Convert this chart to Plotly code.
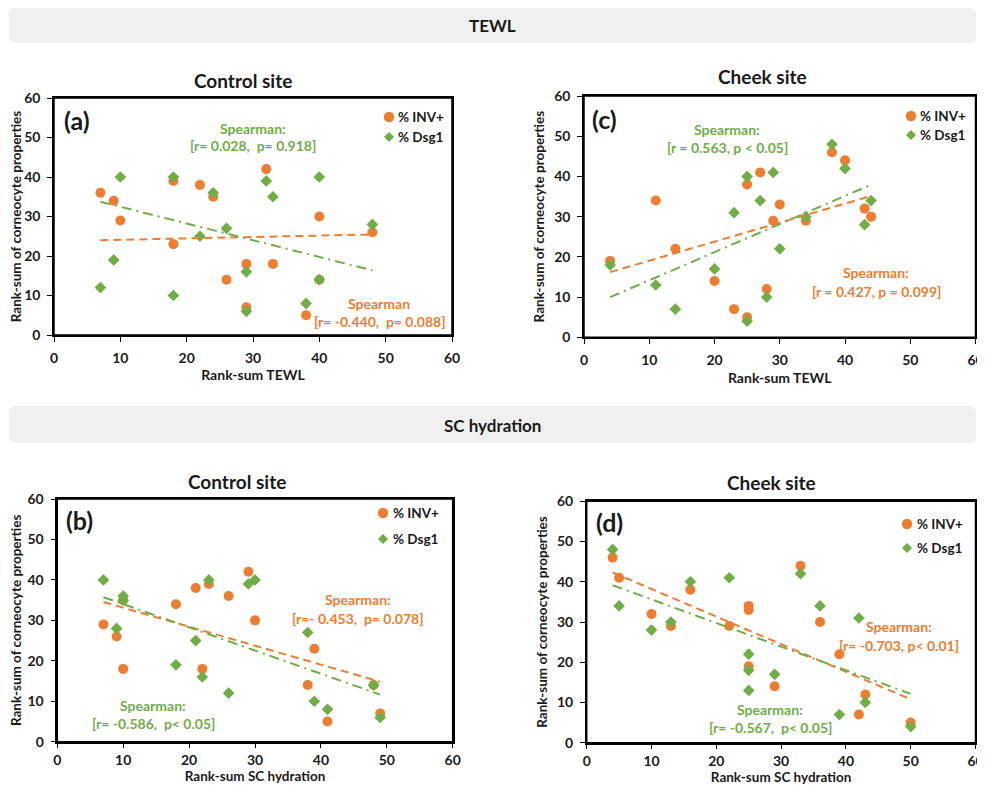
import numpy as np
import plotly.graph_objects as go

# ---------------- data ----------------
# Panel (a): Control site, TEWL
a_x = [7, 9, 10, 18, 18, 22, 24, 26, 29, 29, 32, 33, 38, 40, 40, 48]
a_inv = [36, 34, 29, 39, 23, 38, 35, 14, 18, 7, 42, 18, 5, 30, 14, 26]
a_dsg = [12, 19, 40, 40, 10, 25, 36, 27, 16, 6, 39, 35, 8, 40, 14, 28]
# Panel (c): Cheek site, TEWL
c_x = [4, 11, 14, 20, 23, 25, 25, 27, 28, 29, 30, 34, 38, 40, 43, 44]
c_inv = [19, 34, 22, 14, 7, 38, 5, 41, 12, 29, 33, 29, 46, 44, 32, 30]
c_dsg = [18, 13, 7, 17, 31, 40, 4, 34, 10, 41, 22, 30, 48, 42, 28, 34]
# Panel (b): Control site, SC hydration
b_x = [7, 9, 10, 10, 18, 21, 22, 23, 26, 29, 30, 38, 39, 41, 48, 49]
b_inv = [29, 26, 35, 18, 34, 38, 18, 39, 36, 42, 30, 14, 23, 5, 14, 7]
b_dsg = [40, 28, 36, 35, 19, 25, 16, 40, 12, 39, 40, 27, 10, 8, 14, 6]
# Panel (d): Cheek site, SC hydration
d_x = [4, 5, 10, 13, 16, 22, 25, 25, 25, 29, 33, 36, 39, 42, 43, 50]
d_inv = [46, 41, 32, 29, 38, 29, 34, 33, 19, 14, 44, 30, 22, 7, 12, 5]
d_dsg = [48, 34, 28, 30, 40, 41, 22, 18, 13, 17, 42, 34, 7, 31, 10, 4]

series_names = ["% INV+", "% Dsg1"]
tick_vals = [0, 10, 20, 30, 40, 50, 60]

ORANGE = "#ED7D31"
GREEN = "#70AD47"
FONT = "Lato"
TXT = "#1a1a1a"

# the page body has an 8px margin; positions below are in window pixels
OFF = 8
W, H = 985 - 2 * OFF, 793 - 2 * OFF
def fx(px):
    return (px - OFF) / W
def fy(py):
    return 1 - (py - OFF) / H
def clamp(v):
    return min(1.0, max(0.0, v))

fig = go.Figure()

panels = [
    dict(x=a_x, inv=a_inv, dsg=a_dsg, px=[54, 452], py=[98, 335],
         xtitle="Rank-sum TEWL", swap=True, standoff=6, tls=4, tsize=14),
    dict(x=c_x, inv=c_inv, dsg=c_dsg, px=[584, 975.5], py=[96, 337.3],
         xtitle="Rank-sum TEWL", swap=False, standoff=6, tls=4, tsize=14),
    dict(x=b_x, inv=b_inv, dsg=b_dsg, px=[57.3, 452.7], py=[499, 741.7],
         xtitle="Rank-sum SC hydration", swap=False, standoff=3, tls=0, tsize=13.5),
    dict(x=d_x, inv=d_inv, dsg=d_dsg, px=[586.7, 975.5], py=[501.3, 742.7],
         xtitle="Rank-sum SC hydration", swap=False, standoff=3, tls=0, tsize=13.5),
]

shapes = []
for i, p in enumerate(panels):
    n = "" if i == 0 else str(i + 1)
    xa, ya = "x" + n, "y" + n
    x = np.array(p["x"], dtype=float)
    inv = np.array(p["inv"], dtype=float)
    dsg = np.array(p["dsg"], dtype=float)
    xs = np.array([x.min(), x.max()])
    # linear trend lines (in panel (a) the original figure's line colours are crossed)
    fit_orange = dsg if p["swap"] else inv
    fit_green = inv if p["swap"] else dsg
    k1, b1 = np.polyfit(x, fit_orange, 1)
    k2, b2 = np.polyfit(x, fit_green, 1)
    fig.add_trace(go.Scatter(x=x, y=inv, mode="markers", name=series_names[0], showlegend=False,
                             marker=dict(symbol="circle", size=10, color=ORANGE),
                             xaxis=xa, yaxis=ya))
    fig.add_trace(go.Scatter(x=x, y=dsg, mode="markers", name=series_names[1], showlegend=False,
                             marker=dict(symbol="diamond", size=9, color=GREEN),
                             xaxis=xa, yaxis=ya))
    fig.add_trace(go.Scatter(x=xs, y=k1 * xs + b1, mode="lines", showlegend=False,
                             line=dict(color=ORANGE, width=2, dash="8px,5px"),
                             xaxis=xa, yaxis=ya, hoverinfo="skip"))
    fig.add_trace(go.Scatter(x=xs, y=k2 * xs + b2, mode="lines", showlegend=False,
                             line=dict(color=GREEN, width=2, dash="10px,5px,2px,5px"),
                             xaxis=xa, yaxis=ya, hoverinfo="skip"))

    axis_common = dict(range=[0, 60], tickvals=tick_vals, showgrid=False, zeroline=False,
                       showline=True, linecolor="black", linewidth=1.5, mirror=True,
                       ticks="outside", ticklen=5, tickcolor="black", tickwidth=1.2,
                       ticklabelstandoff=4, automargin=False, ticklabeloverflow="allow",
                       tickfont=dict(family=FONT, size=14, color=TXT, weight="bold"))
    fig.update_layout(**{
        "xaxis" + n: dict(axis_common, domain=[clamp(fx(p["px"][0])), clamp(fx(p["px"][1]))],
                          anchor=ya, ticklabelstandoff=p["tls"],
                          title=dict(text=p["xtitle"], standoff=p["standoff"],
                                     font=dict(family=FONT, size=p["tsize"], color=TXT,
                                               weight="bold"))),
        "yaxis" + n: dict(axis_common, domain=[clamp(fy(p["py"][1])), clamp(fy(p["py"][0]))],
                          anchor=xa,
                          title=dict(text="Rank-sum of corneocyte properties", standoff=6,
                                     font=dict(family=FONT, size=13.5, color=TXT, weight="bold"))),
    })
    # plot frame drawn explicitly as well, so every side is visible
    shapes.append(dict(type="rect", xref=xa + " domain", yref=ya + " domain",
                       x0=0, x1=1, y0=0, y1=1, line=dict(color="black", width=1.5),
                       fillcolor="rgba(0,0,0,0)", layer="above"))

annos = []
def txt(x, y, s, color=TXT, size=14, anchor="center"):
    annos.append(dict(x=fx(x), y=fy(y), xref="paper", yref="paper", text=s, showarrow=False,
                      xanchor=anchor, yanchor="middle",
                      font=dict(family=FONT, size=size, color=color, weight="bold")))

def rounded_rect(x0, y0, x1, y1, r, color):
    pts = (f"M {fx(x0 + r)},{fy(y0)} L {fx(x1 - r)},{fy(y0)} Q {fx(x1)},{fy(y0)} {fx(x1)},{fy(y0 + r)} "
           f"L {fx(x1)},{fy(y1 - r)} Q {fx(x1)},{fy(y1)} {fx(x1 - r)},{fy(y1)} "
           f"L {fx(x0 + r)},{fy(y1)} Q {fx(x0)},{fy(y1)} {fx(x0)},{fy(y1 - r)} "
           f"L {fx(x0)},{fy(y0 + r)} Q {fx(x0)},{fy(y0)} {fx(x0 + r)},{fy(y0)} Z")
    shapes.append(dict(type="path", xref="paper", yref="paper", path=pts,
                       fillcolor=color, line=dict(width=0), layer="below"))

# banners
rounded_rect(9, 8, 976, 43, 6, "#F0F0F0")
rounded_rect(9, 406, 976, 443, 6, "#F0F0F0")
txt(492, 25, "TEWL", size=17)
txt(492, 425, "SC hydration", size=17)
# titles
txt(243, 80, "Control site", size=19)
txt(762, 76, "Cheek site", size=19)
txt(237, 481, "Control site", size=19)
txt(771, 482, "Cheek site", size=19)
# panel labels
txt(77, 120, "(a)", size=25)
txt(604, 119, "(c)", size=25)
txt(79, 520, "(b)", size=25)
txt(609, 522, "(d)", size=25)

# legends (marker + label) per panel
def legend(mx, y1, y2, tx):
    r = 5.2
    shapes.append(dict(type="circle", xref="paper", yref="paper",
                       x0=fx(mx - r), x1=fx(mx + r), y0=fy(y1 + r), y1=fy(y1 - r),
                       fillcolor=ORANGE, line=dict(width=0)))
    d = 5.0
    shapes.append(dict(type="path", xref="paper", yref="paper",
                       path=f"M {fx(mx)},{fy(y2 - d)} L {fx(mx + d)},{fy(y2)} L {fx(mx)},{fy(y2 + d)} "
                            f"L {fx(mx - d)},{fy(y2)} Z",
                       fillcolor=GREEN, line=dict(width=0)))
    txt(tx, y1, series_names[0], size=13.5, anchor="left")
    txt(tx, y2, series_names[1], size=13.5, anchor="left")

legend(389, 117, 137, 396)
legend(911, 116, 135, 918)
legend(383, 513, 539, 391)
legend(907, 524, 548, 915)

# Spearman annotations
txt(253, 128, "Spearman:", GREEN)
txt(253, 146, "[r= 0.028,  p= 0.918]", GREEN)
txt(379, 303, "Spearman", ORANGE)
txt(380, 322, "[r= -0.440,  p= 0.088]", ORANGE)
txt(727, 130, "Spearman:", GREEN)
txt(727, 148, "[r = 0.563, p < 0.05]", GREEN)
txt(876, 272, "Spearman:", ORANGE)
txt(876, 291, "[r = 0.427, p = 0.099]", ORANGE)
txt(358, 599, "Spearman:", ORANGE)
txt(358, 618, "[r=- 0.453,  p= 0.078]", ORANGE)
txt(153, 705, "Spearman:", GREEN)
txt(153, 723, "[r= -0.586,  p< 0.05]", GREEN)
txt(899, 626, "Spearman:", ORANGE)
txt(899, 645, "[r= -0.703, p< 0.01]", ORANGE)
txt(770, 709, "Spearman:", GREEN)
txt(770, 727, "[r= -0.567,  p< 0.05]", GREEN)

fig.update_layout(width=W, height=H, margin=dict(l=0, r=0, t=0, b=0, autoexpand=False),
                  paper_bgcolor="white", plot_bgcolor="white",
                  annotations=annos, shapes=shapes, showlegend=False,
                  font=dict(family=FONT, color=TXT))

fig.write_html("out.html")
